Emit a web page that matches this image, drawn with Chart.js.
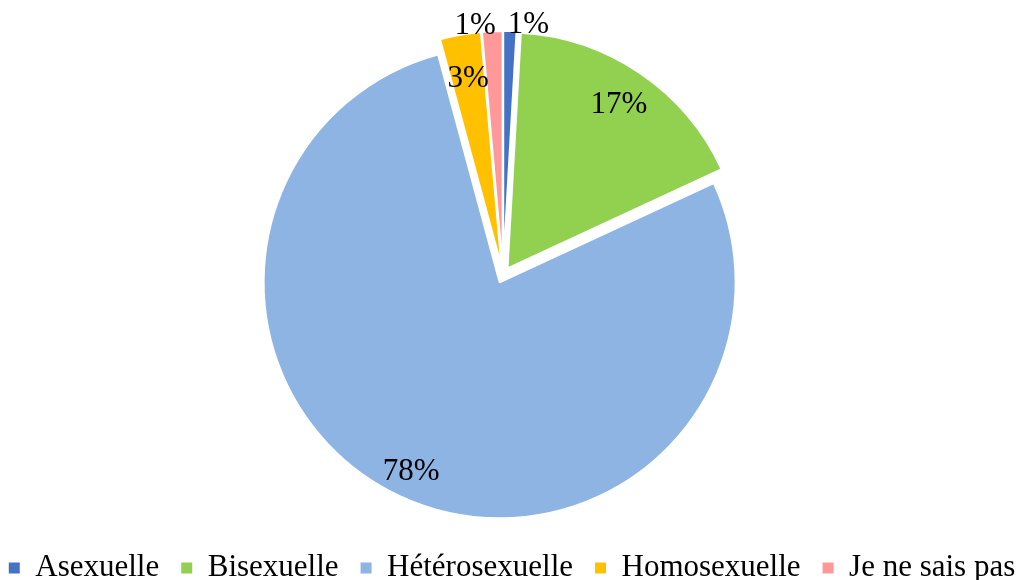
<!DOCTYPE html>
<html>
<head>
<meta charset="utf-8">
<script src="https://cdn.jsdelivr.net/npm/chart.js@4/dist/chart.umd.min.js"></script>
<style>
  html, body { margin: 0; padding: 0; background: #fff; }
  #wrap { width: 1024px; height: 580px; }
</style>
</head>
<body>
<div id="wrap"><canvas id="pieChart"></canvas></div>
<script>
// Data for the pie chart (percent of answers)
const categories = ['Asexuelle', 'Bisexuelle', 'Hétérosexuelle', 'Homosexuelle', 'Je ne sais pas'];
const shares = [0.9, 17.2, 77.7, 2.8, 1.4];
const sliceColors = ['#4472C4', '#92D050', '#8EB4E3', '#FFC000', '#FF9999'];

// where each percentage label sits: fraction of radius, angle nudge in degrees
const labelRadius = [1.03, 0.84, 0.885, 0.81, 1.03];
const labelNudge = [4.3, 0, 0, 0, -4];

// Excel-style exploded slices: every slice is moved out by the same distance
// (Chart.js' own offset also grows the radius of some slices, so do it by hand)
const sliceGap = 8;
const baseArcDraw = Chart.ArcElement.prototype.draw;
Chart.ArcElement.prototype.draw = function (c) {
    const mid = (this.startAngle + this.endAngle) / 2;
    c.save();
    c.translate(Math.cos(mid) * sliceGap, Math.sin(mid) * sliceGap);
    baseArcDraw.call(this, c);
    c.restore();
};

// draw the percentage labels on (or just outside) the slices
const sliceLabels = {
    id: 'sliceLabels',
    afterDatasetsDraw(chart) {
        const ctx = chart.ctx;
        const meta = chart.getDatasetMeta(0);
        ctx.save();
        ctx.font = '31px "Liberation Serif"';
        ctx.fillStyle = '#000';
        ctx.textAlign = 'center';
        ctx.textBaseline = 'middle';
        meta.data.forEach((arc, i) => {
            const p = arc.getProps(['x', 'y', 'startAngle', 'endAngle', 'outerRadius'], true);
            const mid = (p.startAngle + p.endAngle) / 2;
            const a = mid + labelNudge[i] * Math.PI / 180;
            const cx = p.x + Math.cos(mid) * sliceGap;
            const cy = p.y + Math.sin(mid) * sliceGap;
            const d = p.outerRadius * labelRadius[i];
            ctx.fillText(Math.round(shares[i]) + '%', cx + Math.cos(a) * d, cy + Math.sin(a) * d);
        });
        ctx.restore();
    }
};

// pie sits a bit left of the legend centre
const shiftPie = {
    id: 'shiftPie',
    afterLayout(chart) {
        const ca = chart.chartArea;
        ca.left = 0;
        ca.right = chart.width - 18;
        ca.width = ca.right - ca.left;
    }
};

const ctx = document.getElementById('pieChart').getContext('2d');
const pieChart = new Chart(ctx, {
    type: 'pie',
    data: {
        labels: categories,
        datasets: [{
            data: shares,
            backgroundColor: sliceColors,
            borderColor: '#ffffff',
            borderWidth: 2
        }]
    },
    options: {
        responsive: true,
        maintainAspectRatio: false,
        animation: false,
        radius: 236,
        layout: { padding: { top: 19.5, bottom: -13.5, left: -30, right: -30 } },
        plugins: {
            legend: {
                position: 'bottom',
                labels: {
                    color: '#000',
                    font: { family: 'Liberation Serif', size: 31 },
                    boxWidth: 11,
                    boxHeight: 11,
                    padding: 22,
                    // solid squares, no white edge
                    generateLabels(chart) {
                        return Chart.PieController.overrides.plugins.legend.labels
                            .generateLabels(chart)
                            .map(item => Object.assign(item, { lineWidth: 0 }));
                    }
                }
            },
            tooltip: { enabled: false }
        }
    },
    plugins: [sliceLabels, shiftPie]
});
</script>
</body>
</html>
